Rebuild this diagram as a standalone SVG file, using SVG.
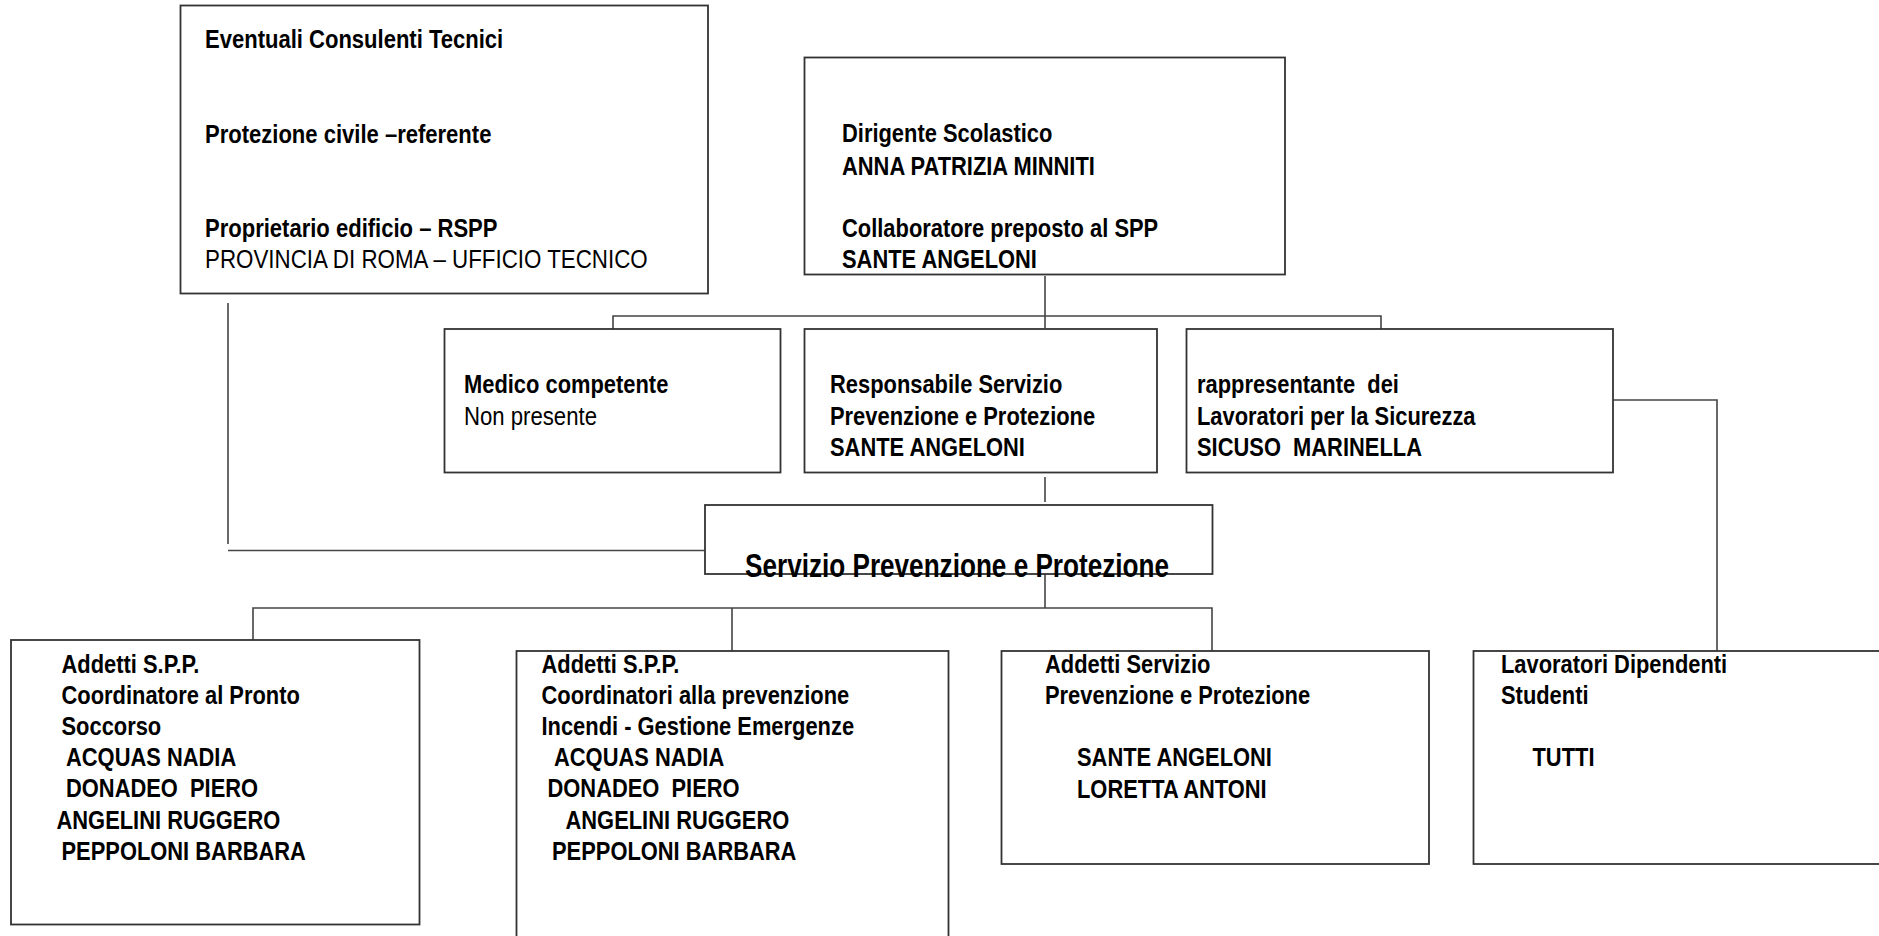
<svg xmlns="http://www.w3.org/2000/svg" width="1879" height="936" viewBox="0 0 1879 936">
<style>
.box{fill:#fff;stroke:#333;stroke-width:1.8}
.con{fill:none;stroke:#444;stroke-width:1.6}
text{font-family:"Liberation Sans Narrow","Arial Narrow","Liberation Sans",Arial,sans-serif;font-size:26.7px;fill:#000;white-space:pre}
.b{font-weight:bold}
.t{font-size:34px;font-weight:bold}
</style>
<rect width="1879" height="936" fill="#fff"/>
<g id="connectors">
<polyline class="con" points="1045,276 1045,328"/>
<polyline class="con" points="613,329 613,316 1381,316 1381,329"/>
<polyline class="con" points="1613,400 1717,400 1717,651"/>
<polyline class="con" points="1045,477 1045,502"/>
<polyline class="con" points="228,303 228,544"/>
<polyline class="con" points="228,550.5 705,550.5"/>
<polyline class="con" points="1045,574 1045,608"/>
<polyline class="con" points="253,641 253,608 1212,608 1212,651"/>
<polyline class="con" points="732,608 732,651"/>
</g>
<g id="consulenti">
<rect class="box" x="180.5" y="5.5" width="527.5" height="288"/>
<text class="b" transform="translate(205,48) scale(0.825,1)">Eventuali Consulenti Tecnici</text>
<text class="b" transform="translate(205,143) scale(0.825,1)">Protezione civile –referente</text>
<text class="b" transform="translate(205,237) scale(0.825,1)">Proprietario edificio – RSPP</text>
<text transform="translate(205,268) scale(0.837,1)">PROVINCIA DI ROMA – UFFICIO TECNICO</text>
</g>
<g id="dirigente">
<rect class="box" x="804.5" y="57.5" width="480.5" height="217"/>
<text class="b" transform="translate(842,142) scale(0.82,1)">Dirigente Scolastico</text>
<text class="b" transform="translate(842,175) scale(0.82,1)">ANNA PATRIZIA MINNITI</text>
<text class="b" transform="translate(842,237) scale(0.82,1)">Collaboratore preposto al SPP</text>
<text class="b" transform="translate(842,268) scale(0.82,1)">SANTE ANGELONI</text>
</g>
<g id="medico">
<rect class="box" x="444.5" y="329" width="336" height="143.5"/>
<text class="b" transform="translate(464,393) scale(0.82,1)">Medico competente</text>
<text transform="translate(464,425) scale(0.83,1)">Non presente</text>
</g>
<g id="rspp">
<rect class="box" x="804.5" y="329" width="352.5" height="143.5"/>
<text class="b" transform="translate(830,393) scale(0.82,1)">Responsabile Servizio</text>
<text class="b" transform="translate(830,424.5) scale(0.82,1)">Prevenzione e Protezione</text>
<text class="b" transform="translate(830,456) scale(0.82,1)">SANTE ANGELONI</text>
</g>
<g id="rls">
<rect class="box" x="1186.5" y="329" width="426.5" height="143.5"/>
<text class="b" transform="translate(1197,393) scale(0.82,1)">rappresentante  dei</text>
<text class="b" transform="translate(1197,424.5) scale(0.82,1)">Lavoratori per la Sicurezza</text>
<text class="b" transform="translate(1197,456) scale(0.82,1)">SICUSO  MARINELLA</text>
</g>
<g id="spp">
<rect class="box" x="705" y="505" width="507.5" height="69"/>
<text class="t" x="745" y="577" textLength="424" lengthAdjust="spacingAndGlyphs">Servizio Prevenzione e Protezione</text>
</g>
<g id="pronto-soccorso">
<rect class="box" x="11" y="640" width="408.5" height="284.5"/>
<text class="b" transform="translate(61.5,672.5) scale(0.82,1)">Addetti S.P.P.</text>
<text class="b" transform="translate(61.5,703.5) scale(0.82,1)">Coordinatore al Pronto</text>
<text class="b" transform="translate(61.5,734.5) scale(0.82,1)">Soccorso</text>
<text class="b" transform="translate(66,766) scale(0.82,1)">ACQUAS NADIA</text>
<text class="b" transform="translate(66,797) scale(0.82,1)">DONADEO  PIERO</text>
<text class="b" transform="translate(56.5,828.5) scale(0.82,1)">ANGELINI RUGGERO</text>
<text class="b" transform="translate(61.5,860) scale(0.82,1)">PEPPOLONI BARBARA</text>
</g>
<g id="incendi">
<rect class="box" x="516.5" y="651" width="432" height="300"/>
<text class="b" transform="translate(541.5,672.5) scale(0.82,1)">Addetti S.P.P.</text>
<text class="b" transform="translate(541.5,703.5) scale(0.82,1)">Coordinatori alla prevenzione</text>
<text class="b" transform="translate(541.5,734.5) scale(0.82,1)">Incendi - Gestione Emergenze</text>
<text class="b" transform="translate(554,766) scale(0.82,1)">ACQUAS NADIA</text>
<text class="b" transform="translate(547.5,797) scale(0.82,1)">DONADEO  PIERO</text>
<text class="b" transform="translate(565.5,828.5) scale(0.82,1)">ANGELINI RUGGERO</text>
<text class="b" transform="translate(552,860) scale(0.82,1)">PEPPOLONI BARBARA</text>
</g>
<g id="addetti-spp">
<rect class="box" x="1001.5" y="651" width="427.5" height="213"/>
<text class="b" transform="translate(1045,672.5) scale(0.82,1)">Addetti Servizio</text>
<text class="b" transform="translate(1045,703.5) scale(0.82,1)">Prevenzione e Protezione</text>
<text class="b" transform="translate(1077,766) scale(0.82,1)">SANTE ANGELONI</text>
<text class="b" transform="translate(1077,797.5) scale(0.82,1)">LORETTA ANTONI</text>
</g>
<g id="lavoratori">
<rect class="box" x="1473.5" y="651" width="420" height="213"/>
<text class="b" transform="translate(1501,672.5) scale(0.82,1)">Lavoratori Dipendenti</text>
<text class="b" transform="translate(1501,703.5) scale(0.82,1)">Studenti</text>
<text class="b" transform="translate(1532.5,766) scale(0.82,1)">TUTTI</text>
</g>
</svg>
